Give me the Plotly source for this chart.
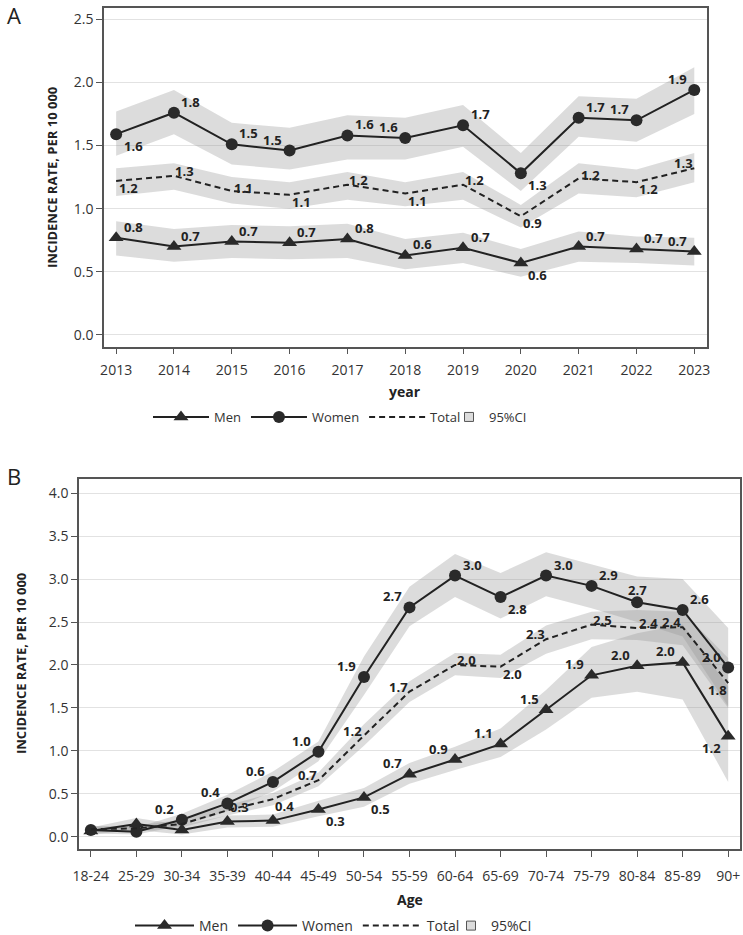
import plotly.graph_objects as go

# ---------------- data ----------------
years = [2013, 2014, 2015, 2016, 2017, 2018, 2019, 2020, 2021, 2022, 2023]
a_women = [1.59, 1.76, 1.51, 1.46, 1.58, 1.56, 1.66, 1.28, 1.72, 1.70, 1.94]
a_women_lo = [1.42, 1.59, 1.35, 1.31, 1.39, 1.39, 1.49, 1.14, 1.57, 1.53, 1.75]
a_women_hi = [1.77, 1.94, 1.68, 1.64, 1.74, 1.72, 1.82, 1.44, 1.89, 1.87, 2.12]
a_total = [1.22, 1.26, 1.14, 1.11, 1.19, 1.12, 1.19, 0.94, 1.24, 1.21, 1.32]
a_total_lo = [1.10, 1.15, 1.04, 1.00, 1.07, 1.02, 1.07, 0.85, 1.12, 1.09, 1.21]
a_total_hi = [1.32, 1.36, 1.25, 1.21, 1.29, 1.21, 1.29, 1.03, 1.36, 1.31, 1.44]
a_men = [0.77, 0.70, 0.74, 0.73, 0.76, 0.63, 0.69, 0.57, 0.70, 0.68, 0.66]
a_men_lo = [0.63, 0.58, 0.61, 0.60, 0.61, 0.52, 0.57, 0.46, 0.58, 0.57, 0.55]
a_men_hi = [0.90, 0.84, 0.87, 0.86, 0.88, 0.76, 0.81, 0.68, 0.82, 0.78, 0.77]

ages = ["18-24", "25-29", "30-34", "35-39", "40-44", "45-49", "50-54", "55-59",
        "60-64", "65-69", "70-74", "75-79", "80-84", "85-89", "90+"]
b_women = [0.08, 0.06, 0.20, 0.39, 0.64, 0.99, 1.86, 2.67, 3.04, 2.79, 3.04, 2.92, 2.73, 2.64, 1.97]
b_women_lo = [0.04, 0.03, 0.13, 0.30, 0.53, 0.88, 1.65, 2.45, 2.79, 2.54, 2.80, 2.66, 2.50, 2.33, 1.52]
b_women_hi = [0.13, 0.11, 0.27, 0.49, 0.76, 1.11, 2.10, 2.91, 3.29, 3.07, 3.31, 3.17, 3.03, 3.00, 2.43]
b_total = [0.09, 0.10, 0.15, 0.31, 0.44, 0.66, 1.18, 1.69, 2.00, 1.98, 2.30, 2.47, 2.43, 2.44, 1.79]
b_total_lo = [0.06, 0.07, 0.11, 0.25, 0.37, 0.59, 1.06, 1.57, 1.88, 1.85, 2.13, 2.30, 2.29, 2.23, 1.50]
b_total_hi = [0.12, 0.13, 0.20, 0.37, 0.51, 0.75, 1.31, 1.81, 2.14, 2.12, 2.46, 2.62, 2.64, 2.62, 2.08]
b_men = [0.07, 0.15, 0.08, 0.18, 0.19, 0.32, 0.46, 0.73, 0.90, 1.08, 1.48, 1.88, 1.99, 2.03, 1.17]
b_men_lo = [0.03, 0.08, 0.03, 0.11, 0.12, 0.24, 0.35, 0.62, 0.78, 0.93, 1.25, 1.62, 1.69, 1.60, 0.64]
b_men_hi = [0.11, 0.22, 0.14, 0.25, 0.26, 0.42, 0.57, 0.86, 1.05, 1.26, 1.71, 2.21, 2.37, 2.47, 1.75]

# label placement codes (None = no label)
a_women_pos = ["lr", "ur", "ur", "ul", "ur", "ul", "ur", "lr", "ur", "ul", "ul"]
a_total_pos = ["lr", "ur", "r", "lr", "ur", "lr", "ur", "lr", "r", "lr", "ul"]
a_men_pos = ["ur", "ur", "ur", "ur", "ur", "ur", "ur", "lr", "ur", "ur", "ul"]
b_women_pos = [None, None, "ul", "ul", "ul", "ul", "ul", "ul", "ur", "lr", "ur", "ur", "u", "ur", "ul"]
b_total_pos = [None, None, None, "r", "lr", "ul", "ul", "ul", "ur", "lr", "ul", "ur", "ur", "ul", "ll"]
b_men_pos = [None, None, None, None, None, "lr", "lr", "ul", "ul", "ul", "ul", "ul", "ul", "ul", "ll"]

# ---------------- styling ----------------
W, H = 743, 935
FONT = "Open Sans"
INK = "#222222"
BAND = "rgba(150,150,150,0.33)"
MARK_OFF = {"ur": (17, -11), "ul": (-17, -11), "lr": (17, 12), "ll": (-17, 12), "u": (0, -12), "r": (17, -4)}
LINE_OFF = {"ur": (11, -5), "ul": (-11, -5), "lr": (12, 7), "ll": (-11, 7), "r": (12, -3)}


def px(x):
    return x / W


def py(y):
    return 1 - y / H


fig = go.Figure()
annotations = []


def add_panel(xs, series, xa, ya, leg, legci):
    # bands first
    for name, v, lo, hi, kind, pos in series:
        fig.add_trace(go.Scatter(
            x=list(xs) + list(xs)[::-1], y=list(hi) + list(lo)[::-1],
            fill="toself", fillcolor=BAND, line=dict(width=0),
            mode="lines", hoverinfo="skip", showlegend=False,
            xaxis=xa, yaxis=ya))
    for name, v, lo, hi, kind, pos in series:
        if kind == "dash":
            fig.add_trace(go.Scatter(
                x=xs, y=v, mode="lines", name=name, legend=leg,
                line=dict(color=INK, width=2, dash="6px,4px"),
                xaxis=xa, yaxis=ya))
            offs = LINE_OFF
        else:
            fig.add_trace(go.Scatter(
                x=xs, y=v, mode="lines+markers", name=name, legend=leg,
                line=dict(color=INK, width=2),
                marker=dict(symbol=kind, size=13 if kind == "triangle-up" else 12,
                            color="#2a2a2a", line=dict(width=0)),
                xaxis=xa, yaxis=ya))
            offs = MARK_OFF
        for xv, yv, p in zip(xs, v, pos):
            if p is None:
                continue
            dx, dy = offs[p]
            annotations.append(dict(
                x=xv, y=yv, xref=xa, yref=ya, text=f"{yv:.1f}", showarrow=False,
                xanchor="center", yanchor="middle",
                xshift=dx, yshift=-dy,
                font=dict(family=FONT, size=13, color=INK, weight="bold")))
    fig.add_trace(go.Scatter(
        x=[None], y=[None], mode="markers", name="95%CI", legend=legci,
        marker=dict(symbol="square", size=9, color="#dcdcdc",
                    line=dict(color="#555555", width=1)),
        xaxis=xa, yaxis=ya))


# order in legend: Men, Women, Total
add_panel(years, [
    ("Men", a_men, a_men_lo, a_men_hi, "triangle-up", a_men_pos),
    ("Women", a_women, a_women_lo, a_women_hi, "circle", a_women_pos),
    ("Total", a_total, a_total_lo, a_total_hi, "dash", a_total_pos),
], "x", "y", "legend", "legend2")

add_panel(ages, [
    ("Men", b_men, b_men_lo, b_men_hi, "triangle-up", b_men_pos),
    ("Women", b_women, b_women_lo, b_women_hi, "circle", b_women_pos),
    ("Total", b_total, b_total_lo, b_total_hi, "dash", b_total_pos),
], "x2", "y2", "legend3", "legend4")

axis_common = dict(
    showline=True, linecolor="#555555", linewidth=1.5, mirror=True,
    ticks="outside", ticklen=6, tickwidth=1.2, tickcolor="#555555",
    tickfont=dict(family=FONT, size=14, color="#333333"),
    automargin=False, zeroline=False,
)

fig.update_layout(
    width=W, height=H, autosize=False,
    margin=dict(l=0, r=0, t=0, b=0, autoexpand=False),
    paper_bgcolor="white", plot_bgcolor="white",
    xaxis=dict(domain=[px(104), px(707)], range=[2012.79, 2023.22], dtick=1,
               showgrid=False, anchor="y", ticklabelstandoff=4, **axis_common),
    yaxis=dict(domain=[py(346.7), py(7.5)], range=[-0.093, 2.593], dtick=0.5,
               tickformat=".1f", showgrid=True, gridcolor="#e2e2e2", gridwidth=1,
               anchor="x", **axis_common),
    xaxis2=dict(domain=[px(79), px(740)], range=[-0.26, 14.26], type="category",
                showgrid=False, anchor="y2", ticklabelstandoff=7, **axis_common),
    yaxis2=dict(domain=[py(849), py(479)], range=[-0.14, 4.163], dtick=0.5,
                tickformat=".1f", showgrid=True, gridcolor="#e2e2e2", gridwidth=1,
                anchor="x2", **axis_common),
    showlegend=True,
)

leg_common = dict(orientation="h", yanchor="middle", xanchor="left",
                  bgcolor="rgba(0,0,0,0)", borderwidth=0, itemclick=False,
                  traceorder="normal")
fig.update_layout(
    legend=dict(x=px(148), y=py(417), itemwidth=56,
                font=dict(family=FONT, size=13, color="#333333"), **leg_common),
    legend2=dict(x=px(449), y=py(417), itemwidth=30,
                 font=dict(family=FONT, size=13, color="#333333"), **leg_common),
    legend3=dict(x=px(130), y=py(926), itemwidth=59,
                 font=dict(family=FONT, size=14, color="#333333"), **leg_common),
    legend4=dict(x=px(451), y=py(926), itemwidth=30,
                 font=dict(family=FONT, size=14, color="#333333"), **leg_common),
)


def label(text, x, y, size, bold=False, angle=0):
    f = dict(family=FONT, size=size, color="#222222")
    if bold:
        f["weight"] = "bold"
    return dict(text=text, x=px(x), y=py(y), xref="paper", yref="paper",
                showarrow=False, textangle=angle, xanchor="center",
                yanchor="middle", font=f)


annotations += [
    label("A", 14, 15, 22),
    label("B", 14, 476, 22),
    label("INCIDENCE RATE, PER 10 000", 52, 177, 13, bold=True, angle=-90),
    label("INCIDENCE RATE, PER 10 000", 21, 664, 13, bold=True, angle=-90),
    label("year", 405, 392, 14, bold=True),
    label("Age", 410, 899, 14, bold=True),
]
fig.update_layout(annotations=annotations)

fig.write_html("out.html")
